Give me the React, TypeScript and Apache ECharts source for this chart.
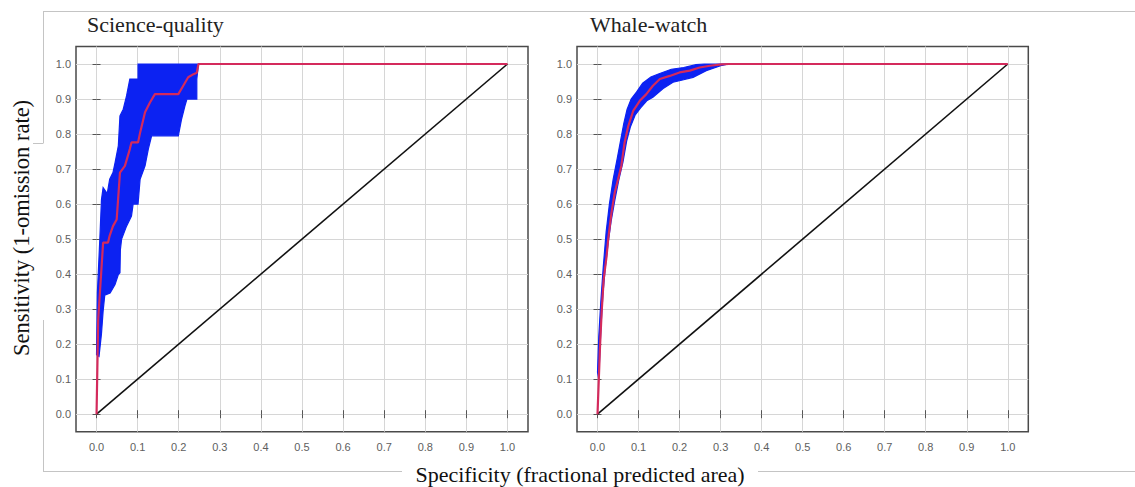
import React, { useEffect, useRef } from "react";
import * as echarts from "echarts";

// ---- Data ----
const tickValues = [0, 0.1, 0.2, 0.3, 0.4, 0.5, 0.6, 0.7, 0.8, 0.9, 1.0];
const panelTitles = ["Science-quality", "Whale-watch"];
const xAxisTitle = "Specificity (fractional predicted area)";
const yAxisTitle = "Sensitivity (1-omission rate)";

// Science-quality: mean ROC curve
const sqMean: number[][] = [
  [0, 0], [0.004, 0.27], [0.016, 0.49], [0.028, 0.49], [0.032, 0.51], [0.04, 0.537],
  [0.049, 0.556], [0.057, 0.69], [0.069, 0.709], [0.081, 0.757], [0.085, 0.776],
  [0.101, 0.776], [0.106, 0.804], [0.118, 0.862], [0.13, 0.89], [0.142, 0.914],
  [0.199, 0.914], [0.211, 0.938], [0.223, 0.962], [0.236, 0.971], [0.244, 0.975],
  [0.248, 1.0], [1.0, 1.0],
];
// Science-quality: upper edge of the +/- 1 SD band
const sqUpper: number[][] = [
  [0.0, 0.17], [0.002, 0.346], [0.008, 0.5], [0.012, 0.613], [0.016, 0.647], [0.026, 0.63],
  [0.032, 0.671], [0.04, 0.69], [0.045, 0.718], [0.053, 0.766], [0.057, 0.852], [0.065, 0.871],
  [0.073, 0.909], [0.081, 0.957], [0.101, 0.957], [0.101, 1.0], [0.248, 1.0],
];
// Science-quality: lower edge of the band
const sqLower: number[][] = [
  [0.0, 0.17], [0.006, 0.165], [0.012, 0.23], [0.016, 0.294], [0.02, 0.34], [0.033, 0.346],
  [0.045, 0.37], [0.053, 0.399], [0.057, 0.404], [0.058, 0.47], [0.061, 0.5], [0.073, 0.537],
  [0.085, 0.566], [0.089, 0.6], [0.101, 0.6], [0.106, 0.671], [0.118, 0.709], [0.126, 0.757],
  [0.134, 0.795], [0.199, 0.795], [0.207, 0.843], [0.215, 0.88], [0.22, 0.9], [0.244, 0.9],
  [0.244, 0.957], [0.248, 1.0],
];

// Whale-watch: mean ROC curve
const wwMean: number[][] = [
  [0, 0], [0.006, 0.19], [0.01, 0.29], [0.015, 0.385], [0.022, 0.45], [0.026, 0.5],
  [0.034, 0.575], [0.042, 0.633], [0.05, 0.67], [0.058, 0.709], [0.066, 0.776],
  [0.075, 0.823], [0.087, 0.866], [0.103, 0.895], [0.119, 0.914], [0.135, 0.938],
  [0.152, 0.957], [0.176, 0.966], [0.2, 0.976], [0.225, 0.981], [0.249, 0.99],
  [0.274, 0.995], [0.302, 0.999], [0.32, 1.0], [1.0, 1.0],
];
const wwUpper: number[][] = [
  [0.0, 0.12], [0.003, 0.22], [0.008, 0.32], [0.014, 0.42], [0.021, 0.52], [0.029, 0.6],
  [0.038, 0.67], [0.048, 0.73], [0.056, 0.78], [0.064, 0.83], [0.072, 0.87], [0.082, 0.9],
  [0.095, 0.92], [0.11, 0.945], [0.13, 0.963], [0.15, 0.972], [0.18, 0.985], [0.21, 0.99],
  [0.24, 0.998], [0.26, 1.0], [0.32, 1.0],
];
const wwLower: number[][] = [
  [0.0, 0.12], [0.003, 0.1], [0.008, 0.24], [0.013, 0.34], [0.019, 0.42], [0.026, 0.49],
  [0.033, 0.55], [0.042, 0.61], [0.052, 0.67], [0.062, 0.72], [0.071, 0.78], [0.08, 0.82],
  [0.092, 0.855], [0.105, 0.875], [0.12, 0.895], [0.135, 0.905], [0.16, 0.93], [0.184, 0.948],
  [0.21, 0.955], [0.233, 0.962], [0.265, 0.981], [0.3, 0.995], [0.32, 1.0],
];

// Random-prediction reference line
const diagonal: number[][] = [[0, 0], [1, 1]];

const bandColor = "#0c22f2";
const meanColor = "#d42a5c";

export default function App() {
  const ref = useRef<HTMLDivElement>(null);
  useEffect(() => {
    if (!ref.current) return;
    const chart = echarts.init(ref.current, null, { renderer: "svg" });

    const labelStyle = { fontFamily: "Liberation Sans, Arial, sans-serif", fontSize: 11, color: "#5e5e5e" };
    const grids = [
      { left: 76, top: 46.5, width: 452, height: 385.2 },
      { left: 577, top: 46.5, width: 451.3, height: 385.2 },
    ].map((g) => ({ ...g, show: true, borderColor: "#4a4a4a", borderWidth: 1.5, backgroundColor: "transparent" }));

    const xAxes: any[] = [];
    const yAxes: any[] = [];
    [0, 1].forEach((gi) => {
      xAxes.push({
        type: "value", gridIndex: gi, min: -0.05, max: 1.05, position: "bottom",
        axisLine: { show: false },
        axisTick: { show: true, inside: true, length: 4, customValues: tickValues, lineStyle: { color: "#555" } },
        axisLabel: { ...labelStyle, margin: 10, customValues: tickValues, formatter: (v: number) => v.toFixed(1) },
        splitLine: { show: true, lineStyle: { color: "#d6d6d6", width: 1 } },
      });
      xAxes.push({
        type: "value", gridIndex: gi, min: -0.05, max: 1.05, position: "top",
        axisLine: { show: false },
        axisTick: { show: true, inside: true, length: 4, customValues: tickValues, lineStyle: { color: "#555" } },
        axisLabel: { show: false },
        splitLine: { show: false },
      });
      yAxes.push({
        type: "value", gridIndex: gi, min: -0.05, max: 1.05, position: "left",
        axisLine: { show: false },
        axisTick: { show: true, inside: true, length: 4, customValues: tickValues, lineStyle: { color: "#555" } },
        axisLabel: { ...labelStyle, margin: 5, customValues: tickValues, formatter: (v: number) => v.toFixed(1) },
        splitLine: { show: true, lineStyle: { color: "#d6d6d6", width: 1 } },
      });
      yAxes.push({
        type: "value", gridIndex: gi, min: -0.05, max: 1.05, position: "right",
        axisLine: { show: false },
        axisTick: { show: true, inside: true, length: 4, customValues: tickValues, lineStyle: { color: "#555" } },
        axisLabel: { show: false },
        splitLine: { show: false },
      });
    });

    const band = (upper: number[][], lower: number[][], axisIdx: number) => ({
      type: "custom",
      xAxisIndex: axisIdx,
      yAxisIndex: axisIdx,
      silent: true,
      z: 2,
      data: [[0, 0]],
      renderItem: (_p: any, api: any) => {
        const pts = [...upper.map((p) => api.coord(p)), ...lower.slice().reverse().map((p) => api.coord(p))];
        return { type: "polygon", shape: { points: pts }, style: { fill: bandColor, stroke: bandColor, lineWidth: 1.2 } };
      },
    });
    const line = (data: number[][], axisIdx: number, color: string, width: number, z: number) => ({
      type: "line",
      xAxisIndex: axisIdx,
      yAxisIndex: axisIdx,
      data,
      showSymbol: false,
      symbol: "none",
      silent: true,
      z,
      lineStyle: { color, width },
    });

    const serif = "Liberation Serif, 'Times New Roman', serif";
    chart.setOption({
      animation: false,
      backgroundColor: "#ffffff",
      grid: grids,
      xAxis: xAxes,
      yAxis: yAxes,
      series: [
        band(sqUpper, sqLower, 0),
        line(diagonal, 0, "#111111", 1.6, 3),
        line(sqMean, 0, meanColor, 2.2, 4),
        band(wwUpper, wwLower, 2),
        line(diagonal, 2, "#111111", 1.6, 3),
        line(wwMean, 2, meanColor, 2.2, 4),
      ],
      graphic: [
        { type: "line", silent: true, shape: { x1: 43, y1: 11.5, x2: 1135, y2: 11.5 }, style: { stroke: "#c4c4c4", lineWidth: 1 } },
        { type: "line", silent: true, shape: { x1: 43.5, y1: 11, x2: 43.5, y2: 143 }, style: { stroke: "#c4c4c4", lineWidth: 1 } },
        { type: "line", silent: true, shape: { x1: 33, y1: 143.5, x2: 43.5, y2: 143.5 }, style: { stroke: "#c4c4c4", lineWidth: 1 } },
        { type: "line", silent: true, shape: { x1: 43.5, y1: 320, x2: 43.5, y2: 471 }, style: { stroke: "#c4c4c4", lineWidth: 1 } },
        { type: "line", silent: true, shape: { x1: 43, y1: 471.5, x2: 1135, y2: 471.5 }, style: { stroke: "#c4c4c4", lineWidth: 1 } },
        { type: "rect", silent: true, shape: { x: 402, y: 464, width: 356, height: 23 }, style: { fill: "#ffffff" } },
        {
          type: "text", silent: true, x: 580, y: 474,
          style: { text: xAxisTitle, font: `22px ${serif}`, fill: "#111", align: "center", verticalAlign: "middle" },
        },
        {
          type: "text", silent: true, x: 21, y: 228, rotation: Math.PI / 2,
          style: { text: yAxisTitle, font: `22.5px ${serif}`, fill: "#111", align: "center", verticalAlign: "middle" },
        },
        {
          type: "text", silent: true, x: 87, y: 24,
          style: { text: panelTitles[0], font: `22px ${serif}`, fill: "#222", align: "left", verticalAlign: "middle" },
        },
        {
          type: "text", silent: true, x: 590, y: 24,
          style: { text: panelTitles[1], font: `22px ${serif}`, fill: "#222", align: "left", verticalAlign: "middle" },
        },
      ],
    });
    return () => chart.dispose();
  }, []);
  return <div ref={ref} style={{ position: "absolute", left: 0, top: 0, width: 1135, height: 487 }} />;
}
